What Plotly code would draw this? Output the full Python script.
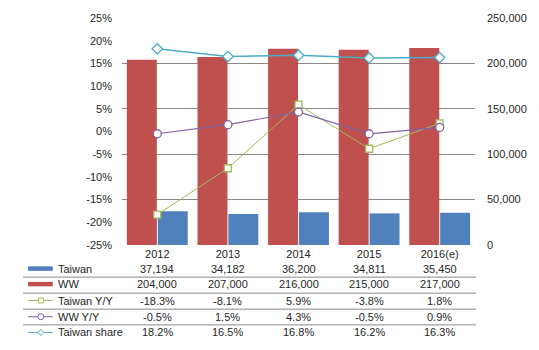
import plotly.graph_objects as go

years = ["2012", "2013", "2014", "2015", "2016(e)"]
taiwan = [37194, 34182, 36200, 34811, 35450]
ww = [204000, 207000, 216000, 215000, 217000]
taiwan_yy = [-18.3, -8.1, 5.9, -3.8, 1.8]
ww_yy = [-0.5, 1.5, 4.3, -0.5, 0.9]
taiwan_share = [18.2, 16.5, 16.8, 16.2, 16.3]

left_ticks = [-25, -20, -15, -10, -5, 0, 5, 10, 15, 20, 25]
right_ticks = [0, 50000, 100000, 150000, 200000, 250000]

BLUE = "#4F81BD"
RED = "#C0504D"
GREEN = "#9BBB59"
PURPLE = "#8064A2"
CYAN = "#4BACC6"
TXT = "#262626"
GRID = "#898989"
FONT = "Liberation Sans, Arial, sans-serif"

W, H = 539, 350
L, R, T, B = 122, 60, 14, 105
PW, PH = W - L - R, H - T - B

def px(x):
    return (x - L) / PW

def py(y):
    return (H - B - y) / PH

fig = go.Figure()
fig.add_trace(go.Bar(x=years, y=ww, name="WW", marker=dict(color=RED, line=dict(width=0)), yaxis="y"))
fig.add_trace(go.Bar(x=years, y=taiwan, name="Taiwan", marker=dict(color=BLUE, line=dict(width=0)), yaxis="y"))

line_specs = [
    (taiwan_yy, "Taiwan Y/Y", GREEN, "square", 7, 1),
    (ww_yy, "WW Y/Y", PURPLE, "circle", 8, 1.2),
    (taiwan_share, "Taiwan share", CYAN, "diamond", 8, 1.5),
]
for vals, name, col, sym, sz, lw in line_specs:
    fig.add_trace(go.Scatter(
        x=years, y=vals, name=name, mode="lines+markers", yaxis="y2",
        line=dict(color=col, width=lw),
        marker=dict(symbol=sym, size=sz, color="white", line=dict(color=col, width=1.3)),
    ))

shapes = []
annotations = []

row_names = ["Taiwan", "WW", "Taiwan Y/Y", "WW Y/Y", "Taiwan share"]
row_vals = [
    [f"{v:,}" for v in taiwan],
    [f"{v:,}" for v in ww],
    [f"{v:.1f}%" for v in taiwan_yy],
    [f"{v:.1f}%" for v in ww_yy],
    [f"{v:.1f}%" for v in taiwan_share],
]
row_y = [269.5, 285, 301.5, 318, 334]
sep_y = [277.7, 294, 310.3, 326.3]

for yy in sep_y:
    shapes.append(dict(type="line", xref="paper", yref="paper", x0=px(22), x1=px(480),
                       y0=py(yy), y1=py(yy), line=dict(color=GRID, width=1)))

for name, vals, ry in zip(row_names, row_vals, row_y):
    annotations.append(dict(text=name, xref="paper", yref="paper", x=px(55), y=py(ry),
                            xanchor="left", yanchor="middle", showarrow=False,
                            font=dict(size=11, color=TXT, family=FONT)))
    for i, v in enumerate(vals):
        annotations.append(dict(text=v, xref="x", yref="paper", x=i, y=py(ry),
                                xanchor="center", yanchor="middle", showarrow=False,
                                font=dict(size=11, color=TXT, family=FONT)))

for col, ry in [(BLUE, 269), (RED, 284.8)]:
    shapes.append(dict(type="rect", xref="paper", yref="paper", x0=px(27), x1=px(52),
                       y0=py(ry + 2.3), y1=py(ry - 2.3), fillcolor=col, line=dict(width=0)))
for (vals, name, col, sym, sz, lw), ry in zip(line_specs, row_y[2:]):
    shapes.append(dict(type="line", xref="paper", yref="paper", x0=px(27), x1=px(52),
                       y0=py(ry), y1=py(ry), line=dict(color=col, width=1)))
    cx, cy = px(40), py(ry)
    if sym == "square":
        shapes.append(dict(type="rect", xref="paper", yref="paper", xsizemode="pixel", ysizemode="pixel",
                           xanchor=cx, yanchor=cy, x0=-2.5, x1=2.5, y0=-2.5, y1=2.5,
                           fillcolor="white", line=dict(color=col, width=1)))
    elif sym == "circle":
        shapes.append(dict(type="circle", xref="paper", yref="paper", xsizemode="pixel", ysizemode="pixel",
                           xanchor=cx, yanchor=cy, x0=-3, x1=3, y0=-3, y1=3,
                           fillcolor="white", line=dict(color=col, width=1)))
    else:
        shapes.append(dict(type="path", xref="paper", yref="paper", xsizemode="pixel", ysizemode="pixel",
                           xanchor=cx, yanchor=cy, path="M -3 0 L 0 3 L 3 0 L 0 -3 Z",
                           fillcolor="white", line=dict(color=col, width=1)))

fig.update_layout(
    width=W, height=H,
    margin=dict(l=L, r=R, t=T, b=B, pad=0),
    paper_bgcolor="white", plot_bgcolor="white",
    showlegend=False,
    barmode="group", bargap=0.125, bargroupgap=0.03,
    font=dict(family=FONT, size=11, color=TXT),
    xaxis=dict(type="category", range=[-0.5, 4.5], showgrid=False, zeroline=False,
               showline=False, ticks="", tickfont=dict(size=11, color=TXT),
               ticklabelstandoff=1),
    yaxis=dict(side="right", range=[0, 250000], tickvals=right_ticks, tickformat=",",
               showgrid=True, gridcolor=GRID, gridwidth=1, zeroline=False, showline=False,
               ticks="", tickfont=dict(size=11, color=TXT), ticklabelstandoff=11),
    yaxis2=dict(side="left", overlaying="y", range=[-25, 25], tickvals=left_ticks,
                ticktext=[f"{v}%" for v in left_ticks], showgrid=False, zeroline=False,
                showline=False, ticks="", tickfont=dict(size=11, color=TXT), ticklabelstandoff=9),
    shapes=shapes,
    annotations=annotations,
)

fig.write_html("out.html")
